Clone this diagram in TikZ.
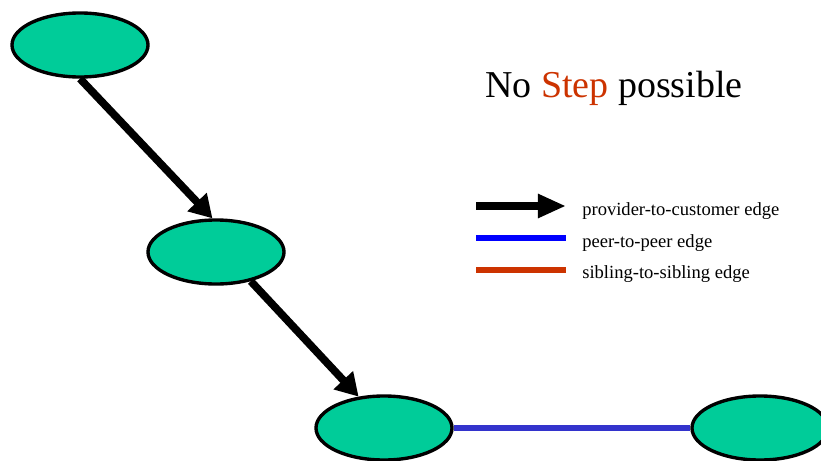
\documentclass[tikz,border=0pt]{standalone}
\usepackage{fontspec}
\setmainfont{Liberation Serif}
\usepackage{xcolor}
\usetikzlibrary{shapes.geometric,arrows.meta}
\definecolor{asgreen}{RGB}{0,204,153}
\definecolor{peerblue}{RGB}{51,51,204}
\definecolor{legblue}{RGB}{0,0,255}
\definecolor{sibred}{RGB}{204,51,0}
\tikzset{
  as/.style={ellipse,draw=black,line width=2.4pt,fill=asgreen,minimum width=3.4cm,minimum height=1.6cm,inner sep=0pt},
  p2c/.style={line width=5.5pt,-{Triangle[length=16pt,width=18pt]}},
  p2p/.style={line width=4.3pt,peerblue},
  legtext/.style={anchor=base west,font=\fontsize{13.2}{15}\selectfont,inner sep=0pt}
}
\begin{document}
\begin{tikzpicture}[x=0.025cm,y=-0.025cm]
  \useasboundingbox (0,0) rectangle (821,460);
  \node[as] (a) at (80,45) {};
  \node[as] (b) at (216,252) {};
  \node[as] (c) at (384,428) {};
  \node[as] (d) at (760,428) {};
  \draw[p2c] (a.south) -- (b.96);
  \draw[p2c] (b.-40) -- (c.129);
  \draw[p2p] (c.east) -- (d.west);
  \node[anchor=base,font=\fontsize{27}{30}\selectfont,inner sep=0pt] (title) at (614,97) {No \textcolor{sibred}{Step} possible};
  \coordinate (l1a) at (476,206); \coordinate (l1b) at (566,206);
  \coordinate (l2a) at (476,238); \coordinate (l2b) at (566,238);
  \coordinate (l3a) at (476,270); \coordinate (l3b) at (566,270);
  \draw[line width=5.5pt,-{Triangle[length=20pt,width=16pt]}] (l1a) -- (l1b);
  \draw[line width=4.5pt,legblue] (l2a) -- (l2b);
  \draw[line width=4.5pt,sibred] (l3a) -- (l3b);
  \node[legtext] (t1) at (582,215) {provider-to-customer edge};
  \node[legtext] (t2) at (582,247) {peer-to-peer edge};
  \node[legtext] (t3) at (582,278) {sibling-to-sibling edge};
\end{tikzpicture}
\end{document}
